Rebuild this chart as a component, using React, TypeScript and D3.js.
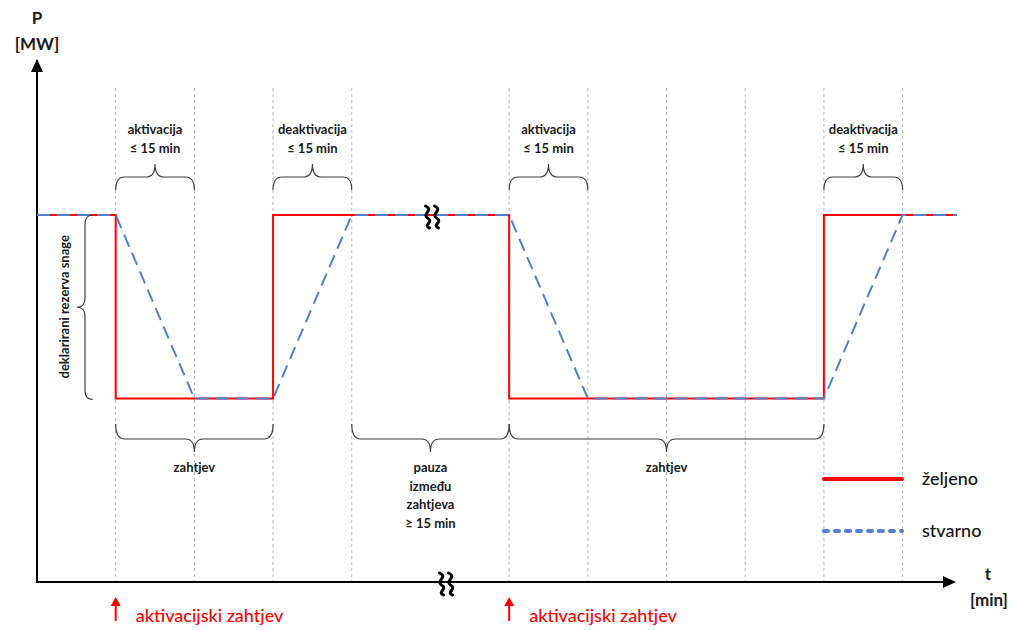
import React from "react";
import * as d3 from "d3";

// ---- data ----
const desiredT = [0, 1, 1, 3, 3, 6, 6, 10, 10, 11.69];
const desiredP = [2, 2, 1, 1, 2, 2, 1, 1, 2, 2];
const actualT = [0, 1, 2, 3, 4, 6, 7, 10, 11, 11.69];
const actualP = [2, 2, 1, 1, 2, 2, 1, 1, 2, 2];
const gridTicks = [1, 2, 3, 4, 6, 7, 8, 9, 10, 11];
const topBraceFrom = [1, 3, 6, 10];
const topBraceTo = [2, 4, 7, 11];
const topBraceLabels = [
  ["aktivacija", "≤ 15 min"],
  ["deaktivacija", "≤ 15 min"],
  ["aktivacija", "≤ 15 min"],
  ["deaktivacija", "≤ 15 min"],
];
const bottomBraceFrom = [1, 4, 6];
const bottomBraceTo = [3, 6, 10];
const bottomBraceLabels = [
  ["zahtjev"],
  ["pauza", "između", "zahtjeva", "≥ 15 min"],
  ["zahtjev"],
];
const requestTimes = [1, 6];
const requestLabel = "aktivacijski zahtjev";
const legendLabels = ["željeno", "stvarno"];
const reserveLabel = "deklarirani rezerva snage";

const W = 1015;
const H = 630;

function hBrace(x0: number, x1: number, yEnd: number, yMid: number, yTip: number) {
  const xm = (x0 + x1) / 2;
  const r = 9;
  return `M${x0},${yEnd} Q${x0},${yMid} ${x0 + r},${yMid} L${xm - r},${yMid} Q${xm},${yMid} ${xm},${yTip} Q${xm},${yMid} ${xm + r},${yMid} L${x1 - r},${yMid} Q${x1},${yMid} ${x1},${yEnd}`;
}
function vBrace(y0: number, y1: number, xEnd: number, xMid: number, xTip: number) {
  const ym = (y0 + y1) / 2;
  const r = 9;
  return `M${xEnd},${y0} Q${xMid},${y0} ${xMid},${y0 + r} L${xMid},${ym - r} Q${xMid},${ym} ${xTip},${ym} Q${xMid},${ym} ${xMid},${ym + r} L${xMid},${y1 - r} Q${xMid},${y1} ${xEnd},${y1}`;
}
function breakMark(cx: number, cy: number) {
  const s = (x: number) =>
    `M${x - 2},${cy - 11} C${x + 7},${cy - 7} ${x - 6},${cy - 3} ${x},${cy + 1} C${x + 7},${cy + 5} ${x - 5},${cy + 8} ${x + 2},${cy + 11}`;
  return s(cx - 4.5) + " " + s(cx + 4.5);
}

export default function App() {
  const x = d3.scaleLinear().domain([0, 11]).range([37, 902.6]);
  const y = d3.scaleLinear().domain([0, 2]).range([582, 215]);
  const line = d3
    .line<[number, number]>()
    .x((d) => x(d[0]))
    .y((d) => y(d[1]));
  const desired = desiredT.map((t, i) => [t, desiredP[i]] as [number, number]);
  const actual = actualT.map((t, i) => [t, actualP[i]] as [number, number]);
  const font = "Lato, 'Open Sans', sans-serif";
  const braceColor = "#404040";

  return (
    <svg
      width={W}
      height={H}
      style={{ position: "absolute", left: 0, top: 0, background: "#fff" }}
      fontFamily={font}
    >
      <rect width={W} height={H} fill="#fff" />
      {/* grid */}
      {gridTicks.map((t) => (
        <line
          key={t}
          x1={x(t)}
          x2={x(t)}
          y1={88}
          y2={y(0)}
          stroke="#b4b4b4"
          strokeWidth={1}
          strokeDasharray="3 3"
        />
      ))}
      {/* axes */}
      <line x1={x(0)} y1={y(0) + 1} x2={x(0)} y2={60} stroke="#000" strokeWidth={2} />
      <path d={`M${x(0) - 6},${72} L${x(0)},${59} L${x(0) + 6},${72} Z`} fill="#000" />
      <line x1={x(0) - 1} y1={y(0)} x2={945} y2={y(0)} stroke="#000" strokeWidth={2} />
      <path d={`M${943},${y(0) - 6} L${956},${y(0)} L${943},${y(0) + 6} Z`} fill="#000" />

      {/* series */}
      <path d={line(desired) || ""} fill="none" stroke="#ff0000" strokeWidth={2} />
      <path
        d={line(actual) || ""}
        fill="none"
        stroke="#4f7fd0"
        strokeWidth={2}
        strokeDasharray="13 7"
      />

      {/* break marks */}
      <path d={breakMark(432, y(2) + 2)} fill="none" stroke="#000" strokeWidth={3} strokeLinecap="round" />
      <path d={breakMark(446, y(0) + 2)} fill="none" stroke="#000" strokeWidth={3} strokeLinecap="round" />

      {/* top braces */}
      {topBraceFrom.map((f, i) => {
        const cx = (x(f) + x(topBraceTo[i])) / 2;
        return (
          <g key={"tb" + i}>
            <path d={hBrace(x(f), x(topBraceTo[i]), 190, 177, 164)} fill="none" stroke={braceColor} strokeWidth={1.2} />
            {topBraceLabels[i].map((s, j) => (
              <text key={j} x={cx} y={134 + j * 19} textAnchor="middle" fontSize={13} fontWeight={700} fill="#1a1a1a">
                {s}
              </text>
            ))}
          </g>
        );
      })}

      {/* bottom braces */}
      {bottomBraceFrom.map((f, i) => {
        const cx = (x(f) + x(bottomBraceTo[i])) / 2;
        return (
          <g key={"bb" + i}>
            <path d={hBrace(x(f), x(bottomBraceTo[i]), 424, 439, 452)} fill="none" stroke={braceColor} strokeWidth={1.2} />
            {bottomBraceLabels[i].map((s, j) => (
              <text key={j} x={cx} y={472 + j * 18.7} textAnchor="middle" fontSize={13} fontWeight={700} fill="#1a1a1a">
                {s}
              </text>
            ))}
          </g>
        );
      })}

      {/* reserve brace */}
      <path d={vBrace(y(2), y(1) + 1, 93, 85, 77)} fill="none" stroke={braceColor} strokeWidth={1.2} />
      <text
        x={0}
        y={0}
        transform={`translate(69,${(y(2) + y(1)) / 2}) rotate(-90)`}
        textAnchor="middle"
        fontSize={13}
        fontWeight={700}
        fill="#1a1a1a"
      >
        {reserveLabel}
      </text>

      {/* axis labels */}
      <text x={37} y={24} textAnchor="middle" fontSize={17} fontWeight={700} fill="#1a1a1a">P</text>
      <text x={37} y={50} textAnchor="middle" fontSize={17} fontWeight={700} fill="#1a1a1a">[MW]</text>
      <text x={988} y={580} textAnchor="middle" fontSize={17} fontWeight={700} fill="#1a1a1a">t</text>
      <text x={989} y={606} textAnchor="middle" fontSize={17} fontWeight={700} fill="#1a1a1a">[min]</text>

      {/* legend */}
      <line x1={824} x2={902} y1={479} y2={479} stroke="#ff0000" strokeWidth={4} strokeLinecap="round" />
      <text x={922} y={485} fontSize={18} fontWeight={500} fill="#111">{legendLabels[0]}</text>
      <line x1={824} x2={902} y1={531} y2={531} stroke="#4f7fd0" strokeWidth={4} strokeLinecap="round" strokeDasharray="4 7" />
      <text x={922} y={537} fontSize={18} fontWeight={500} fill="#111">{legendLabels[1]}</text>

      {/* activation requests */}
      {requestTimes.map((t, i) => (
        <g key={"rq" + i}>
          <line x1={x(t)} x2={x(t)} y1={621} y2={604} stroke="#ff0000" strokeWidth={2} />
          <path d={`M${x(t) - 5},${606} L${x(t)},${597} L${x(t) + 5},${606} Z`} fill="#ff0000" />
          <text x={x(t) + 20} y={622} fontSize={18} fontWeight={500} fill="#ff0000">{requestLabel}</text>
        </g>
      ))}
    </svg>
  );
}
